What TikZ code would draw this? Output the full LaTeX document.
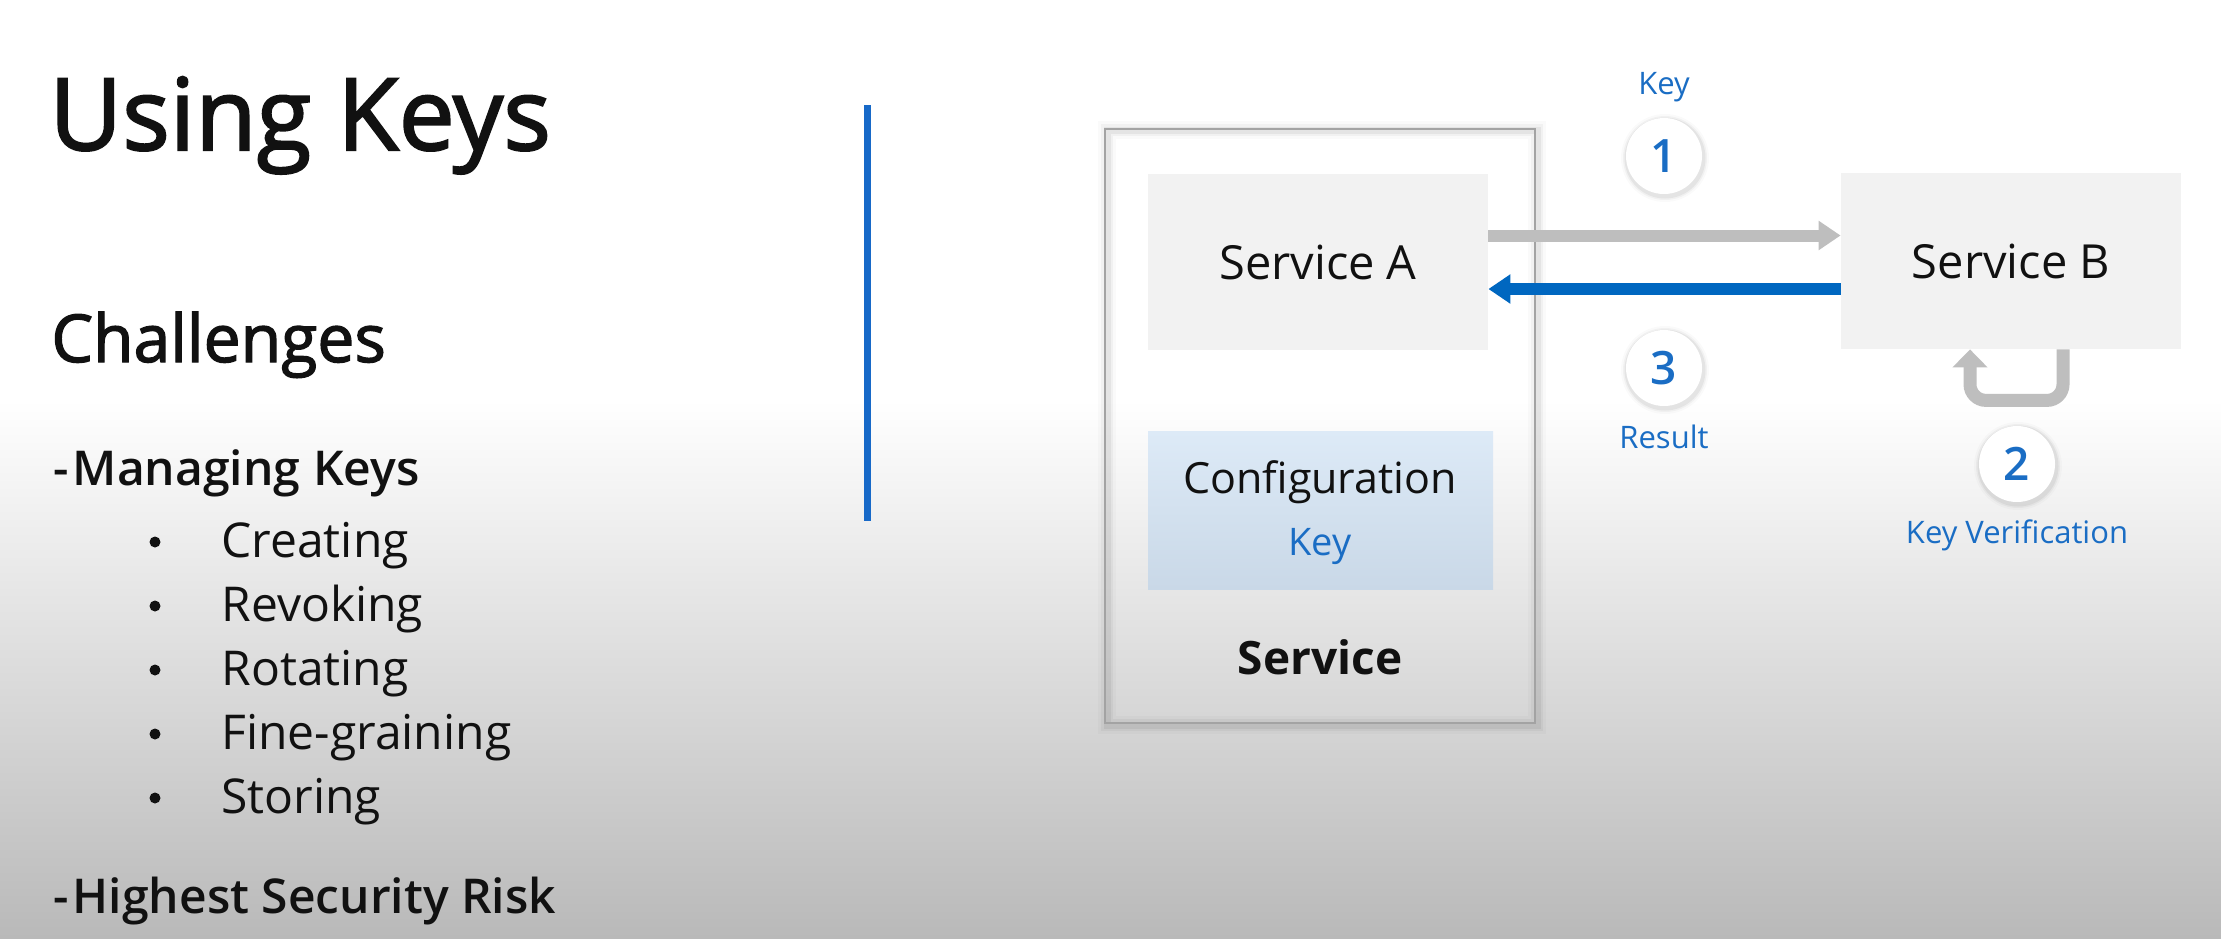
\documentclass[tikz,border=0pt]{standalone}
\usepackage{fontspec}
\setmainfont{Open Sans}
\IfFontExistsTF{Open Sans SemiBold}{\newfontfamily\semib{Open Sans SemiBold}}{%
  \IfFontExistsTF{Open Sans Semibold}{\newfontfamily\semib{Open Sans Semibold}}{%
    \newfontfamily\semib[FakeBold=2.6]{Open Sans}}}
\newfontfamily\medf[FakeBold=2.0]{Open Sans}
\usetikzlibrary{arrows.meta}
\definecolor{mblue}{HTML}{0067C0}
\definecolor{tblue}{HTML}{1A6DC4}
\definecolor{vline}{HTML}{1769C8}
\definecolor{agray}{HTML}{BEBEBE}
\definecolor{boxf}{HTML}{F2F2F2}
\definecolor{cfgtop}{HTML}{DDEAF7}
\definecolor{cfgbot}{HTML}{C9D8E7}
\definecolor{bgbot}{HTML}{B9B9B9}
\definecolor{ink}{HTML}{111111}
\definecolor{bordergray}{HTML}{A3A3A3}
\tikzset{
  txt/.style={inner sep=0pt, anchor=base west, text=ink},
  svcbox/.style={fill=boxf, draw=none, minimum width=170pt, minimum height=88pt, inner sep=0pt,
    font=\fontsize{23.5}{28}\selectfont, text=ink},
  numcircle/.style={circle, fill=white, draw=none, minimum size=38pt, inner sep=0pt,
    font=\semib\fontsize{23}{26}\selectfont, text=tblue},
  smalllab/.style={inner sep=0pt, anchor=base, font=\fontsize{15.5}{19}\selectfont, text=tblue},
  garrow/.style={draw=agray, line width=6pt, -{Triangle[length=11pt,width=14pt]}},
  barrow/.style={draw=mblue, line width=6pt, -{Triangle[length=11pt,width=14pt]}},
  loopar/.style={draw=agray, line width=6.5pt, rounded corners=8pt, -{Triangle[length=9pt,width=17pt]}},
}
\begin{document}
\begin{tikzpicture}[x=0.5pt,y=-0.5pt]
% background
\fill[white] (0,0) rectangle (2221,938);
\shade[top color=white, bottom color=bgbot] (0,400) rectangle (2221,938);
\useasboundingbox (0,0) rectangle (2221,938);

% left text
\node[txt, font=\medf\fontsize{50}{58}\selectfont] (title) at (49,150) {Using Keys};
\node[txt, font=\medf\fontsize{33}{38}\selectfont] (chal) at (51,362) {Challenges};
\node[txt, font=\semib\fontsize{24}{29}\selectfont] (mk) at (53,485) {-\kern2pt Managing Keys};
\foreach \i/\t in {0/Creating,1/Revoking,2/Rotating,3/Fine-graining,4/Storing}{
  \fill[ink] (155,{542+64*\i}) circle[radius=5.5];
  \node[txt, font=\fontsize{24}{29}\selectfont] (item\i) at (221,{557+64*\i}) {\t};
}
\node[txt, font=\semib\fontsize{24}{29}\selectfont] (hs) at (53,913) {-\kern2pt Highest Security Risk};

% vertical blue line
\draw[vline, line width=3.5pt] (867,105) -- (867,521);

% outer service box shadow
\foreach \w/\o in {9pt/0.02,6pt/0.035,3.5pt/0.05}{
  \draw[black, opacity=\o, line width=\w] (1107,130) rectangle (1537,725);
}
\node[draw=bordergray, line width=1.2pt, minimum width=215pt, minimum height=297pt, inner sep=0pt] (svc) at (1320,426) {};
\node[inner sep=0pt, anchor=base, font=\bfseries\fontsize{23}{28}\selectfont, text=ink] (svclab) at (1320,674) {Service};

% inner boxes
\node[svcbox] (sa) at (1318,262) {Service A};
\node[svcbox] (sb) at (2011,261) {Service B};
\node[draw=none, top color=cfgtop, bottom color=cfgbot, minimum width=172.5pt, minimum height=79pt, inner sep=0pt] (cfg) at (1320.5,510) {};
\node[inner sep=0pt, anchor=base, font=\fontsize{21.5}{26}\selectfont, text=ink] (cfgt) at (1320,493) {Configuration};
\node[inner sep=0pt, anchor=base, font=\fontsize{19}{23}\selectfont, text=tblue] (cfgk) at (1320,555) {Key};

% arrows
\draw[garrow] ([yshift=13.25pt]sa.east) -- ([yshift=13.25pt]sa.east -| sb.west);
\draw[barrow] ([yshift=-13.5pt]sa.east -| sb.west) -- ([yshift=-13.5pt]sa.east);
\draw[loopar] ([xshift=26pt]sb.south) -- ([xshift=26pt,yshift=-25.5pt]sb.south) -- ([xshift=-20.5pt,yshift=-25.5pt]sb.south) -- ([xshift=-20.5pt]sb.south);

% number circles
\foreach \n/\px/\py in {1/1664/156, 3/1664/368, 2/2017/464}{
  \foreach \r/\o in {44/0.02,42/0.035,40.5/0.05}{
    \fill[black, opacity=\o] (\px+1,\py+2) circle[radius=\r];
  }
  \node[numcircle] (c\n) at (\px,\py) {\n};
}
\node[smalllab] (lkey) at (1664,94) {Key};
\node[smalllab] (lres) at (1664,448) {Result};
\node[smalllab] (lver) at (2017,543) {Key Verification};
\end{tikzpicture}
\end{document}
